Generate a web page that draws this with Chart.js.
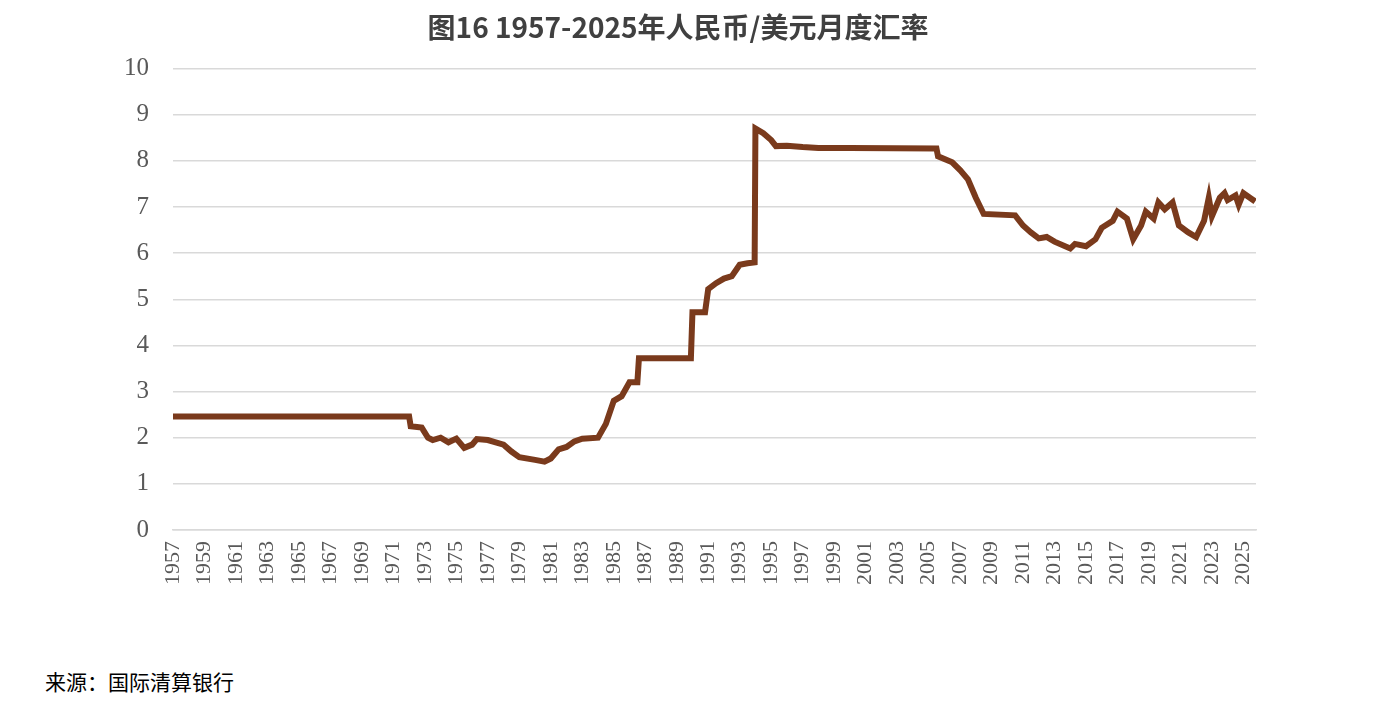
<!DOCTYPE html>
<html lang="zh">
<head>
  <meta charset="UTF-8" />
  <title>人民币/美元月度汇率</title>
  <script src="https://cdn.jsdelivr.net/npm/chart.js"></script>
  <style>
    body { margin: 0; background: #fff; width: 1394px; height: 706px; position: relative; overflow: hidden; }
    #wrap { position: absolute; left: 0; top: 0; width: 1394px; height: 640px; }
    .source {
      position: absolute; left: 45px; top: 666px;
      font-family: "Noto Sans CJK SC", sans-serif; font-size: 21px; color: #000;
    }
  </style>
</head>
<body>
  <div id="wrap"><canvas id="fx"></canvas></div>
  <div class="source">来源：国际清算银行</div>

  <script>
    // key points (year, CNY per USD)
    const dates = [1957, 1972.0, 1972.1, 1972.8, 1973.2, 1973.5, 1974, 1974.5, 1975, 1975.5, 1976, 1976.3,
      1977, 1977.5, 1978, 1978.5, 1979, 1980, 1980.6, 1981, 1981.5, 1982, 1982.5, 1983, 1984, 1984.5,
      1985, 1985.5, 1986, 1986.5, 1986.6, 1989.9, 1990.0, 1990.8, 1991, 1991.5, 1992, 1992.5, 1993, 1993.5,
      1993.95, 1994.0, 1994.5, 1995, 1995.3, 1996, 1997, 1998, 2000, 2005.5, 2005.6, 2006.5, 2007, 2007.5,
      2008, 2008.5, 2010.5, 2011, 2011.5, 2012, 2012.5, 2013, 2014, 2014.3, 2015, 2015.6, 2016, 2016.7,
      2017, 2017.6, 2018, 2018.5, 2018.8, 2019.3, 2019.6, 2020, 2020.5, 2020.9, 2021.5, 2022, 2022.5,
      2022.8, 2023, 2023.5, 2023.8, 2024, 2024.5, 2024.7, 2025, 2025.5, 2025.75];
    const rates = [2.46, 2.46, 2.25, 2.22, 2.0, 1.95, 2.0, 1.9, 1.98, 1.78, 1.85, 1.97,
      1.95, 1.9, 1.85, 1.7, 1.58, 1.52, 1.48, 1.55, 1.75, 1.8, 1.92, 1.98, 2.0, 2.3,
      2.8, 2.9, 3.2, 3.2, 3.72, 3.72, 4.72, 4.72, 5.22, 5.35, 5.45, 5.5, 5.75, 5.78,
      5.8, 8.7, 8.6, 8.45, 8.32, 8.33, 8.3, 8.28, 8.28, 8.27, 8.1, 7.97, 7.8, 7.6,
      7.2, 6.85, 6.82, 6.6, 6.45, 6.32, 6.35, 6.25, 6.1, 6.2, 6.15, 6.3, 6.55, 6.7,
      6.9, 6.75, 6.3, 6.6, 6.9, 6.75, 7.1, 6.95, 7.1, 6.6, 6.45, 6.35, 6.7,
      7.2, 6.8, 7.2, 7.3, 7.15, 7.25, 7.05, 7.3, 7.18, 7.12];
    const yearTicks = [];
    for (let y = 1957; y <= 2025; y += 2) yearTicks.push(y);
    const rateTicks = [0, 1, 2, 3, 4, 5, 6, 7, 8, 9, 10];

    const serif = 'Liberation Serif, Times New Roman, serif';

    new Chart(document.getElementById('fx'), {
      type: 'line',
      data: {
        datasets: [{
          data: dates.map((d, i) => ({ x: d, y: rates[i] })),
          borderColor: '#7a3a1c',
          borderWidth: 6,
          pointRadius: 0,
          tension: 0
        }]
      },
      options: {
        responsive: true,
        maintainAspectRatio: false,
        animation: false,
        layout: { padding: { left: 100, right: 138, top: 0, bottom: 52 } },
        plugins: {
          legend: { display: false },
          tooltip: { enabled: false },
          title: {
            display: true,
            text: '图16 1957-2025年人民币/美元月度汇率',
            color: '#404040',
            font: { family: '"Noto Sans CJK SC", sans-serif', size: 28, weight: 'bold' },
            padding: { top: 11, bottom: 24 }
          }
        },
        scales: {
          x: {
            type: 'linear',
            min: 1957,
            max: 2025.8,
            afterBuildTicks: s => { s.ticks = yearTicks.map(v => ({ value: v })); },
            ticks: {
              minRotation: 90, maxRotation: 90, autoSkip: false,
              color: '#595959', font: { family: serif, size: 22 },
              callback: v => String(v)
            },
            grid: { display: false },
            border: { color: '#d9d9d9', width: 1.5 }
          },
          y: {
            min: 0, max: 10,
            afterBuildTicks: s => { s.ticks = rateTicks.map(v => ({ value: v })); },
            ticks: { color: '#595959', font: { family: serif, size: 25 }, padding: 24 },
            grid: { color: '#d9d9d9', lineWidth: 1.5, drawTicks: false },
            border: { display: false }
          }
        }
      }
    });
  </script>
</body>
</html>
